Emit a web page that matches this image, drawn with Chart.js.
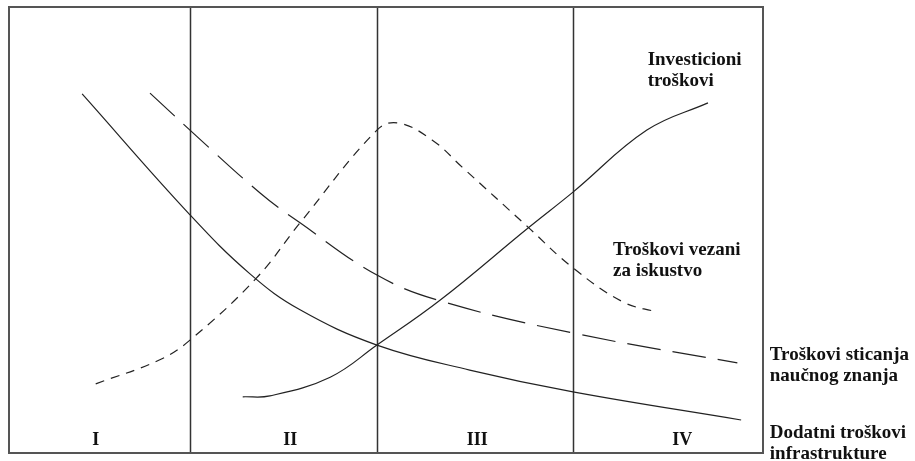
<!DOCTYPE html>
<html>
<head>
<meta charset="utf-8">
<script src="https://cdn.jsdelivr.net/npm/chart.js@4.4.0/dist/chart.umd.min.js"></script>
<style>
  html, body { margin: 0; padding: 0; background: #fff; }
  #wrap { width: 915px; height: 461px; }
</style>
</head>
<body>
<div id="wrap"><canvas id="chart" width="915" height="461"></canvas></div>
<script>
// phase boundaries and labels (x in % of the time span)
const phaseBounds = [24.0, 48.8, 74.8];
const phaseNames = ['I', 'II', 'III', 'IV'];
const phaseLabelX = [11.5, 37.3, 62.1, 89.3];

// curves (x, y in % of axis)
const infraX = [9.7, 24.0, 32.0, 38.6, 48.8, 61.1, 74.8, 97.1];
const infraY = [80.5, 53.4, 40.1, 32.1, 24.2, 18.6, 13.7, 7.4];

const znanjeX = [18.7, 24.0, 33.3, 38.6, 48.8, 57.2, 74.8, 96.6];
const znanjeY = [80.7, 72.4, 58.3, 51.6, 39.9, 34.1, 26.9, 20.2];

const iskustvoX = [11.5, 20.0, 24.0, 32.8, 38.6, 48.8, 51.6, 56.1, 60.1, 68.8, 74.8, 81.4, 85.9];
const iskustvoY = [15.5, 20.9, 25.3, 39.2, 51.6, 72.4, 74.0, 70.2, 64.1, 50.7, 41.5, 33.9, 31.6];

const investX = [31.0, 34.6, 42.6, 48.8, 57.2, 68.8, 74.8, 84.6, 92.7];
const investY = [12.6, 12.8, 17.0, 24.2, 34.3, 50.4, 58.5, 72.4, 78.5];

// curve captions: [lines, x, y of first line]
const captions = [
  { lines: ['Investicioni', 'troškovi'], x: 84.7, y: 88.1 },
  { lines: ['Troškovi vezani', 'za iskustvo'], x: 80.1, y: 45.5 },
  { lines: ['Troškovi sticanja', 'naučnog znanja'], x: 100.9, y: 22.0 },
  { lines: ['Dodatni troškovi', 'infrastrukture'], x: 100.9, y: 4.5 },
];

const toPts = (xs, ys) => xs.map((x, i) => ({ x: x, y: ys[i] }));

const frame = {
  id: 'frame',
  beforeDatasetsDraw(chart) {
    const { ctx, chartArea: a, scales } = chart;
    ctx.save();
    ctx.strokeStyle = '#333';
    ctx.lineWidth = 1.5;
    phaseBounds.forEach(b => {
      const x = Math.round(scales.x.getPixelForValue(b)) + 0.5;
      ctx.beginPath();
      ctx.moveTo(x, a.top);
      ctx.lineTo(x, a.bottom);
      ctx.stroke();
    });
    ctx.lineWidth = 2;
    ctx.strokeStyle = '#555';
    ctx.strokeRect(a.left, a.top, a.right - a.left, a.bottom - a.top);
    ctx.restore();
  },
  afterDatasetsDraw(chart) {
    const { ctx, scales } = chart;
    ctx.save();
    ctx.fillStyle = '#111';
    ctx.font = 'bold 18px "Liberation Serif", serif';
    ctx.textBaseline = 'middle';
    ctx.textAlign = 'center';
    phaseNames.forEach((n, i) => {
      ctx.fillText(n, scales.x.getPixelForValue(phaseLabelX[i]), scales.y.getPixelForValue(2.9));
    });
    ctx.font = 'bold 19px "Liberation Serif", serif';
    ctx.textAlign = 'left';
    captions.forEach(c => {
      const x = scales.x.getPixelForValue(c.x);
      const y = scales.y.getPixelForValue(c.y);
      c.lines.forEach((l, i) => ctx.fillText(l, x, y + i * 21));
    });
    ctx.restore();
  }
};

const lineStyle = {
  borderColor: '#222',
  borderWidth: 1.2,
  pointRadius: 0,
  fill: false,
  tension: 0.4,
};

new Chart(document.getElementById('chart').getContext('2d'), {
  type: 'line',
  data: {
    datasets: [
      { ...lineStyle, label: 'Dodatni troškovi infrastrukture', data: toPts(infraX, infraY) },
      { ...lineStyle, label: 'Troškovi sticanja naučnog znanja', data: toPts(znanjeX, znanjeY), borderDash: [34, 12] },
      { ...lineStyle, label: 'Troškovi vezani za iskustvo', data: toPts(iskustvoX, iskustvoY), borderDash: [9, 7] },
      { ...lineStyle, label: 'Investicioni troškovi', data: toPts(investX, investY) },
    ]
  },
  options: {
    responsive: false,
    animation: false,
    layout: { padding: { left: 9, top: 7, right: 152, bottom: 8 } },
    scales: {
      x: { type: 'linear', min: 0, max: 100, display: false },
      y: { min: 0, max: 100, display: false },
    },
    plugins: {
      legend: { display: false },
      tooltip: { enabled: false },
    },
  },
  plugins: [frame]
});
</script>
</body>
</html>
